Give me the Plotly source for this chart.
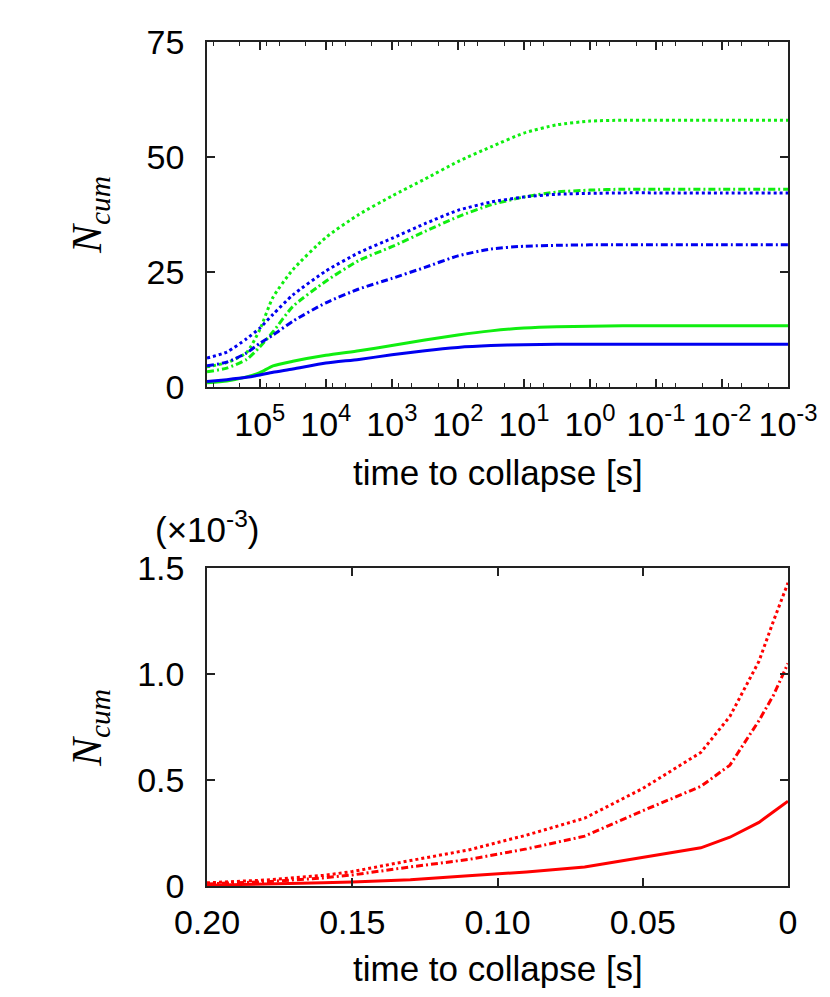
import plotly.graph_objects as go

# top panel: log10 of time to collapse [s]
log_t = [5.8, 5.5, 5.2, 5.0, 4.8, 4.5, 4.0, 3.5, 3.0, 2.5, 2.0, 1.5, 1.0, 0.5, 0.0, -0.5, -1.0, -2.0, -3.0]
t_top = [10 ** v for v in log_t]

green_dot = [4.4, 5.3, 7.5, 12.5, 19.5, 25.5, 32.5, 37.5, 41.5, 45.2, 49.0, 52.2, 55.2, 57.0, 57.8, 58.0, 58.0, 58.0, 58.0]
green_dashdot = [3.3, 4.1, 6.0, 8.7, 12.0, 17.5, 23.0, 27.5, 30.5, 33.8, 37.0, 39.6, 41.3, 42.4, 42.8, 43.0, 43.0, 43.0, 43.0]
blue_dot = [6.3, 7.6, 10.5, 12.8, 15.8, 20.0, 25.2, 29.2, 32.3, 35.5, 38.4, 40.2, 41.3, 41.9, 42.1, 42.2, 42.2, 42.2, 42.2]
blue_dashdot = [4.6, 5.4, 7.4, 9.5, 11.3, 14.3, 18.3, 21.3, 23.6, 26.0, 28.5, 30.0, 30.6, 30.8, 30.9, 30.9, 30.9, 30.9, 30.9]
green_solid = [0.9, 1.3, 2.2, 3.1, 4.6, 5.6, 6.9, 7.9, 9.0, 10.2, 11.3, 12.2, 12.8, 13.1, 13.2, 13.3, 13.3, 13.3, 13.3]
blue_solid = [1.2, 1.6, 2.1, 2.6, 3.2, 3.9, 5.2, 6.0, 7.0, 7.9, 8.6, 9.0, 9.2, 9.3, 9.3, 9.3, 9.3, 9.3, 9.3]

# bottom panel: time to collapse [s], N_cum in units of 1e-3
t_bot = [0.200, 0.180, 0.160, 0.150, 0.130, 0.110, 0.090, 0.070, 0.050, 0.030, 0.020, 0.010, 0.005, 0.000]
red_dot = [0.015, 0.028, 0.050, 0.068, 0.12, 0.17, 0.24, 0.32, 0.46, 0.63, 0.80, 1.06, 1.25, 1.43]
red_dashdot = [0.010, 0.020, 0.038, 0.052, 0.090, 0.125, 0.175, 0.235, 0.355, 0.47, 0.57, 0.78, 0.90, 1.05]
red_solid = [0.004, 0.008, 0.015, 0.019, 0.030, 0.048, 0.066, 0.090, 0.135, 0.18, 0.23, 0.30, 0.35, 0.40]

top_ticks = [1e5, 1e4, 1e3, 1e2, 1e1, 1e0, 1e-1, 1e-2, 1e-3]
top_labels = ["10<sup>5</sup>", "10<sup>4</sup>", "10<sup>3</sup>", "10<sup>2</sup>", "10<sup>1</sup>",
              "10<sup>0</sup>", "10<sup>-1</sup>", "10<sup>-2</sup>", "10<sup>-3</sup>"]
top_minor = [m * 10 ** e for e in range(-3, 6) for m in (2, 5, 8)]
bot_ticks = [0.20, 0.15, 0.10, 0.05, 0.0]
bot_labels = ["0.20", "0.15", "0.10", "0.05", "0"]

GREEN = "#10ee10"
BLUE = "#0000f0"
RED = "#ff0000"
DOT = "dot"
DASHDOT = "7px,3px,2px,3px"

W, H = 830, 997
OFF = 8  # page body margin in the browser


def px(x):
    return (x - OFF) / W


def py(y):
    return 1 - (y - OFF) / H


fig = go.Figure()

top = [
    (green_dot, GREEN, DOT), (green_dashdot, GREEN, DASHDOT),
    (blue_dot, BLUE, DOT), (blue_dashdot, BLUE, DASHDOT),
    (green_solid, GREEN, "solid"), (blue_solid, BLUE, "solid"),
]
for ys, c, d in top:
    fig.add_trace(go.Scatter(x=t_top, y=ys, mode="lines",
                             line=dict(color=c, width=3, dash=d, shape="spline", smoothing=0.6),
                             xaxis="x", yaxis="y", showlegend=False))

for ys, d in [(red_dot, DOT), (red_dashdot, DASHDOT), (red_solid, "solid")]:
    fig.add_trace(go.Scatter(x=t_bot, y=ys, mode="lines", line=dict(color=RED, width=3, dash=d),
                             xaxis="x2", yaxis="y2", showlegend=False))

FONT = "Liberation Sans, Arial, sans-serif"
axis_common = dict(showline=True, linecolor="#222", linewidth=1.5, mirror="ticks", ticks="inside",
                   tickcolor="#222", tickwidth=1.5, ticklen=8, showgrid=False, zeroline=False,
                   automargin=False, tickfont=dict(family=FONT, size=34, color="black"))

fig.update_layout(
    width=W, height=H, margin=dict(l=0, r=0, t=0, b=0, autoexpand=False),
    plot_bgcolor="white", paper_bgcolor="white",
    xaxis=dict(type="log", range=[5.8, -3], domain=[px(207), px(788)], anchor="y",
               tickvals=top_ticks, ticktext=top_labels, ticklabelstandoff=6,
               minor=dict(tickvals=top_minor, ticks="inside", ticklen=4, tickcolor="#222", tickwidth=1.2),
               **axis_common),
    yaxis=dict(range=[0, 75], domain=[py(387), py(42)], anchor="x",
               tickvals=[0, 25, 50, 75], ticklabelstandoff=14, **axis_common),
    xaxis2=dict(range=[0.2, 0], domain=[px(207), px(788)], anchor="y2",
                tickvals=bot_ticks, ticktext=bot_labels, ticklabelstandoff=5, **axis_common),
    yaxis2=dict(range=[0, 1.5], domain=[py(886), py(568)], anchor="x2",
                tickvals=[0, 0.5, 1.0, 1.5], ticktext=["0", "0.5", "1.0", "1.5"], ticklabelstandoff=14,
                **axis_common),
)

title_font = dict(family=FONT, size=35, color="black")
ylab_font = dict(family="Liberation Serif, Times New Roman, serif", size=42, color="black")
fig.add_annotation(text="time to collapse [s]", x=px(497.5), y=py(472), xref="paper", yref="paper",
                   showarrow=False, font=title_font, xanchor="center", yanchor="middle")
fig.add_annotation(text="time to collapse [s]", x=px(497.5), y=py(968), xref="paper", yref="paper",
                   showarrow=False, font=title_font, xanchor="center", yanchor="middle")
fig.add_annotation(text="<i>N<sub>cum</sub></i>", x=px(90), y=py(215), xref="paper", yref="paper",
                   showarrow=False, font=ylab_font, textangle=-90, xanchor="center", yanchor="middle")
fig.add_annotation(text="<i>N<sub>cum</sub></i>", x=px(90), y=py(728), xref="paper", yref="paper",
                   showarrow=False, font=ylab_font, textangle=-90, xanchor="center", yanchor="middle")
fig.add_annotation(text="(×10<sup>-3</sup>)", x=px(207), y=py(527), xref="paper", yref="paper",
                   showarrow=False, font=title_font, xanchor="center", yanchor="middle")

fig.write_html("out.html")
